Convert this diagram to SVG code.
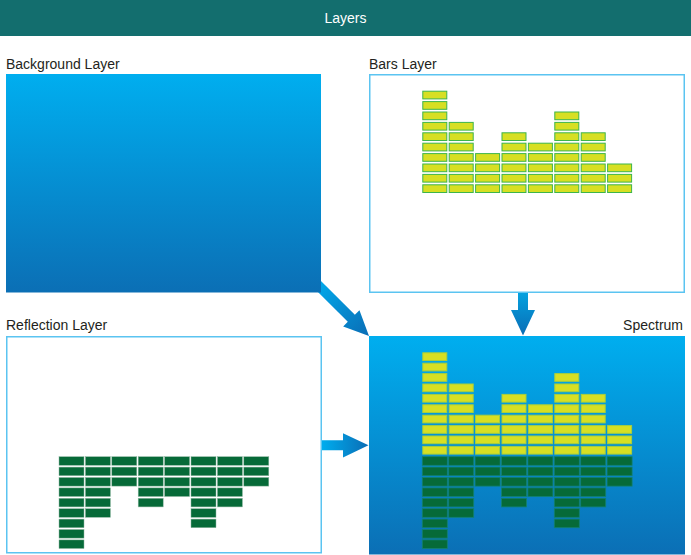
<svg xmlns="http://www.w3.org/2000/svg" xmlns:xlink="http://www.w3.org/1999/xlink" width="691" height="555" viewBox="0 0 691 555">
<style>
.lbl{font-family:"Liberation Sans",Arial,sans-serif;font-size:14px;fill:#231f20}
.hdr{font-family:"Liberation Sans",Arial,sans-serif;font-size:14px;fill:#ffffff}
.frame{fill:#ffffff;stroke:#5bc4f1;stroke-width:1.5}
</style>
<defs>
<linearGradient id="bg" x1="0" y1="0" x2="0" y2="1">
<stop offset="0" stop-color="#00aeef"/>
<stop offset="1" stop-color="#0b6fb5"/>
</linearGradient>
<linearGradient id="arrH" x1="0" y1="0" x2="1" y2="0">
<stop offset="0" stop-color="#00aeef"/>
<stop offset="1" stop-color="#0a6db5"/>
</linearGradient>
<linearGradient id="arrV" x1="0" y1="0" x2="0" y2="1">
<stop offset="0" stop-color="#04a2e0"/>
<stop offset="1" stop-color="#0a6db5"/>
</linearGradient>
<g id="barCells">
<rect x="0" y="0" width="24" height="7.7"/><rect x="0" y="10.4" width="24" height="7.7"/><rect x="0" y="20.8" width="24" height="7.7"/><rect x="0" y="31.2" width="24" height="7.7"/><rect x="0" y="41.6" width="24" height="7.7"/><rect x="0" y="52" width="24" height="7.7"/><rect x="0" y="62.4" width="24" height="7.7"/><rect x="0" y="72.8" width="24" height="7.7"/><rect x="0" y="83.2" width="24" height="7.7"/><rect x="0" y="93.6" width="24" height="7.7"/>
<rect x="26.4" y="31.2" width="24" height="7.7"/><rect x="26.4" y="41.6" width="24" height="7.7"/><rect x="26.4" y="52" width="24" height="7.7"/><rect x="26.4" y="62.4" width="24" height="7.7"/><rect x="26.4" y="72.8" width="24" height="7.7"/><rect x="26.4" y="83.2" width="24" height="7.7"/><rect x="26.4" y="93.6" width="24" height="7.7"/>
<rect x="52.8" y="62.4" width="24" height="7.7"/><rect x="52.8" y="72.8" width="24" height="7.7"/><rect x="52.8" y="83.2" width="24" height="7.7"/><rect x="52.8" y="93.6" width="24" height="7.7"/>
<rect x="79.2" y="41.6" width="24" height="7.7"/><rect x="79.2" y="52" width="24" height="7.7"/><rect x="79.2" y="62.4" width="24" height="7.7"/><rect x="79.2" y="72.8" width="24" height="7.7"/><rect x="79.2" y="83.2" width="24" height="7.7"/><rect x="79.2" y="93.6" width="24" height="7.7"/>
<rect x="105.6" y="52" width="24" height="7.7"/><rect x="105.6" y="62.4" width="24" height="7.7"/><rect x="105.6" y="72.8" width="24" height="7.7"/><rect x="105.6" y="83.2" width="24" height="7.7"/><rect x="105.6" y="93.6" width="24" height="7.7"/>
<rect x="132" y="20.8" width="24" height="7.7"/><rect x="132" y="31.2" width="24" height="7.7"/><rect x="132" y="41.6" width="24" height="7.7"/><rect x="132" y="52" width="24" height="7.7"/><rect x="132" y="62.4" width="24" height="7.7"/><rect x="132" y="72.8" width="24" height="7.7"/><rect x="132" y="83.2" width="24" height="7.7"/><rect x="132" y="93.6" width="24" height="7.7"/>
<rect x="158.4" y="41.6" width="24" height="7.7"/><rect x="158.4" y="52" width="24" height="7.7"/><rect x="158.4" y="62.4" width="24" height="7.7"/><rect x="158.4" y="72.8" width="24" height="7.7"/><rect x="158.4" y="83.2" width="24" height="7.7"/><rect x="158.4" y="93.6" width="24" height="7.7"/>
<rect x="184.8" y="72.8" width="24" height="7.7"/><rect x="184.8" y="83.2" width="24" height="7.7"/><rect x="184.8" y="93.6" width="24" height="7.7"/>
</g>
<g id="reflCells">
<rect x="0" y="0" width="25" height="8.6"/><rect x="0" y="10.4" width="25" height="8.6"/><rect x="0" y="20.8" width="25" height="8.6"/><rect x="0" y="31.2" width="25" height="8.6"/><rect x="0" y="41.6" width="25" height="8.6"/><rect x="0" y="52" width="25" height="8.6"/><rect x="0" y="62.4" width="25" height="8.6"/><rect x="0" y="72.8" width="25" height="8.6"/><rect x="0" y="83.2" width="25" height="8.6"/>
<rect x="26.4" y="0" width="25" height="8.6"/><rect x="26.4" y="10.4" width="25" height="8.6"/><rect x="26.4" y="20.8" width="25" height="8.6"/><rect x="26.4" y="31.2" width="25" height="8.6"/><rect x="26.4" y="41.6" width="25" height="8.6"/><rect x="26.4" y="52" width="25" height="8.6"/>
<rect x="52.8" y="0" width="25" height="8.6"/><rect x="52.8" y="10.4" width="25" height="8.6"/><rect x="52.8" y="20.8" width="25" height="8.6"/>
<rect x="79.2" y="0" width="25" height="8.6"/><rect x="79.2" y="10.4" width="25" height="8.6"/><rect x="79.2" y="20.8" width="25" height="8.6"/><rect x="79.2" y="31.2" width="25" height="8.6"/><rect x="79.2" y="41.6" width="25" height="8.6"/>
<rect x="105.6" y="0" width="25" height="8.6"/><rect x="105.6" y="10.4" width="25" height="8.6"/><rect x="105.6" y="20.8" width="25" height="8.6"/><rect x="105.6" y="31.2" width="25" height="8.6"/>
<rect x="132" y="0" width="25" height="8.6"/><rect x="132" y="10.4" width="25" height="8.6"/><rect x="132" y="20.8" width="25" height="8.6"/><rect x="132" y="31.2" width="25" height="8.6"/><rect x="132" y="41.6" width="25" height="8.6"/><rect x="132" y="52" width="25" height="8.6"/><rect x="132" y="62.4" width="25" height="8.6"/>
<rect x="158.4" y="0" width="25" height="8.6"/><rect x="158.4" y="10.4" width="25" height="8.6"/><rect x="158.4" y="20.8" width="25" height="8.6"/><rect x="158.4" y="31.2" width="25" height="8.6"/><rect x="158.4" y="41.6" width="25" height="8.6"/>
<rect x="184.8" y="0" width="25" height="8.6"/><rect x="184.8" y="10.4" width="25" height="8.6"/><rect x="184.8" y="20.8" width="25" height="8.6"/>
</g>
</defs>
<rect width="691" height="555" fill="#ffffff"/>
<g id="header">
<rect x="0" y="0" width="691" height="36" fill="#136e6e"/>
<text class="hdr" x="345.5" y="23" text-anchor="middle">Layers</text>
</g>
<g id="connectors">
<polygon fill="url(#arrH)" transform="translate(369,336) rotate(45)" points="-80,-5 -25,-5 -25,-11.5 0,0 -25,11.5 -25,5 -80,5"/>
<polygon fill="url(#arrV)" points="518,292 528,292 528,310 535,310 523,335.5 511,310 518,310"/>
<polygon fill="url(#arrH)" points="321,440.3 343,440.3 343,433.3 368.5,445.3 343,457.6 343,450.3 321,450.3"/>
</g>
<g id="background-layer">
<text class="lbl" x="6" y="69">Background Layer</text>
<rect x="6" y="74" width="315" height="218.5" fill="url(#bg)"/>
</g>
<g id="bars-layer">
<text class="lbl" x="369" y="69">Bars Layer</text>
<rect class="frame" x="369.75" y="74.75" width="314.5" height="217.5"/>
<use xlink:href="#barCells" x="422.8" y="91.2" fill="#d7df23" stroke="#3db54a" stroke-width="1"/>
</g>
<g id="reflection-layer">
<text class="lbl" x="6" y="330">Reflection Layer</text>
<rect class="frame" x="6.75" y="336.75" width="314.5" height="216"/>
<use xlink:href="#reflCells" x="59" y="456.7" fill="#066a38" stroke="#8fb8a2" stroke-width="0.5"/>
</g>
<g id="spectrum">
<text class="lbl" x="683" y="329.5" text-anchor="end">Spectrum</text>
<rect x="369" y="336" width="316" height="218.5" fill="url(#bg)"/>
<use xlink:href="#barCells" x="422.8" y="352.8" fill="#d7df23" stroke="#a6cf3e" stroke-width="1"/>
<use xlink:href="#reflCells" x="422.3" y="456.7" fill="#066a38" stroke="#13806e" stroke-width="0.8"/>
</g>
</svg>
